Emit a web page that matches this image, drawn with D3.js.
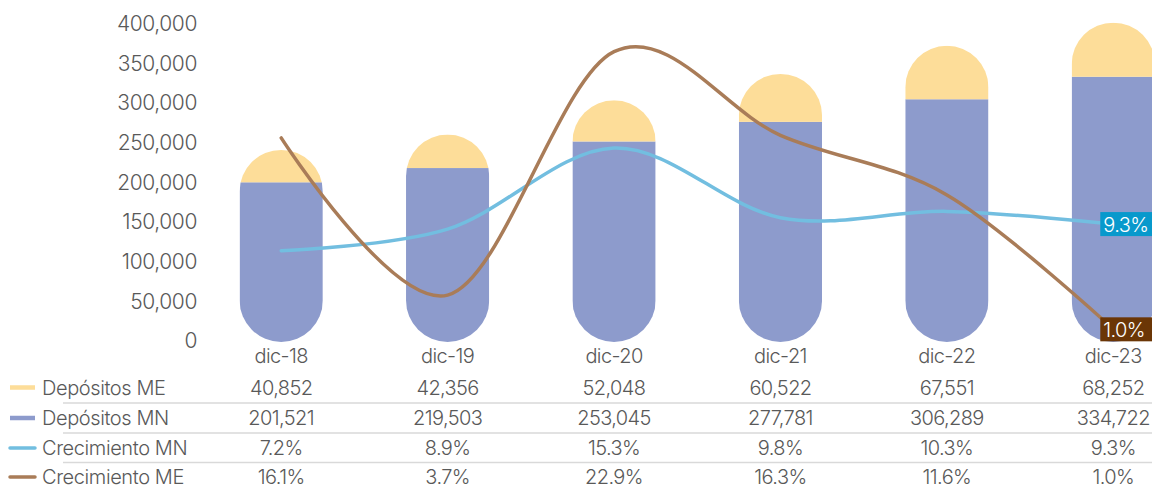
<!DOCTYPE html>
<html>
<head>
<meta charset="utf-8">
<script src="https://cdn.jsdelivr.net/npm/d3@7"></script>
<style>
  html, body { margin: 0; padding: 0; background: #fff; }
  svg { display: block; }
  text { font-family: Inter, "Liberation Sans", Arial, sans-serif; font-weight: 300; fill: #595959; font-variant-numeric: proportional-nums; }
</style>
</head>
<body>
<svg id="chart" width="1152" height="489"></svg>
<script>
// Depósitos del sistema: moneda nacional (MN) y moneda extranjera (ME)
const categories = ["dic-18", "dic-19", "dic-20", "dic-21", "dic-22", "dic-23"];
const depositosME = [40852, 42356, 52048, 60522, 67551, 68252];
const depositosMN = [201521, 219503, 253045, 277781, 306289, 334722];
const crecimientoMN = [7.2, 8.9, 15.3, 9.8, 10.3, 9.3];
const crecimientoME = [16.1, 3.7, 22.9, 16.3, 11.6, 1.0];
const yTicks = [0, 50000, 100000, 150000, 200000, 250000, 300000, 350000, 400000];

const colors = {
  me: "#fddd99",
  mn: "#8d9bcc",
  growMN: "#72bee0",
  growME: "#a97c58",
  boxMN: "#0899cc",
  boxME: "#6b3606",
  grid: "#d9d9d9"
};

const svg = d3.select("#chart");

const x = d3.scaleBand()
  .domain(categories)
  .range([198, 1196.5])
  .paddingInner(0.5)
  .paddingOuter(0.25);

const y = d3.scaleLinear().domain([0, 400000]).range([342, 25]);
const y2 = d3.scaleLinear().domain([0, 25]).range([342, 25]);

const fmt = d3.format(",");
const pct = v => v.toFixed(1) + "%";

// Eje Y principal (solo etiquetas)
const yAxis = d3.axisLeft(y).tickValues(yTicks).tickFormat(fmt).tickSize(0).tickPadding(0);
const gy = svg.append("g").attr("transform", "translate(197,-1)").call(yAxis);
gy.select(".domain").remove();
gy.selectAll("text")
  .attr("font-family", null)
  .attr("font-size", null)
  .attr("fill", null)
  .style("font-size", "21px")
  .style("letter-spacing", "-0.4px");

// Columnas apiladas con extremos redondeados
const bw = x.bandwidth();
const r = bw / 2;
const defs = svg.append("defs");
const stacks = categories.map((c, i) => ({
  cat: c, i, mn: depositosMN[i], me: depositosME[i], total: depositosMN[i] + depositosME[i]
}));

stacks.forEach(d => {
  defs.append("clipPath").attr("id", "pill-" + d.i)
    .append("rect")
    .attr("x", x(d.cat))
    .attr("y", y(d.total))
    .attr("width", bw)
    .attr("height", y(0) - y(d.total))
    .attr("rx", r).attr("ry", r);
});

const bars = svg.append("g").selectAll("g").data(stacks).join("g")
  .attr("clip-path", d => "url(#pill-" + d.i + ")");

bars.append("rect")
  .attr("x", d => x(d.cat))
  .attr("y", d => y(d.mn))
  .attr("width", bw)
  .attr("height", d => y(0) - y(d.mn))
  .attr("fill", colors.mn);

bars.append("rect")
  .attr("x", d => x(d.cat))
  .attr("y", d => y(d.total))
  .attr("width", bw)
  .attr("height", d => y(d.mn) - y(d.total))
  .attr("fill", colors.me);

// Líneas de crecimiento (eje secundario)
const cx = c => x(c) + bw / 2;
const line = d3.line().x(d => cx(d.c)).y(d => y2(d.v)).curve(d3.curveCardinal.tension(0));

const seriesMN = categories.map((c, i) => ({ c, v: crecimientoMN[i] }));
const seriesME = categories.map((c, i) => ({ c, v: crecimientoME[i] }));

svg.append("path").datum(seriesMN).attr("d", line)
  .attr("fill", "none").attr("stroke", colors.growMN).attr("stroke-width", 3.5).attr("stroke-linecap", "round");
svg.append("path").datum(seriesME).attr("d", line)
  .attr("fill", "none").attr("stroke", colors.growME).attr("stroke-width", 3.5).attr("stroke-linecap", "round");

// Etiquetas del último valor
function endLabel(series, fill) {
  const last = series[series.length - 1];
  const g = svg.append("g").attr("transform", `translate(${cx(last.c) - 13},${y2(last.v)})`);
  g.append("rect").attr("x", 0).attr("y", -12).attr("width", 56).attr("height", 24).attr("fill", fill);
  g.append("text").attr("x", 3).attr("y", 7.5)
    .style("font-size", "20px").style("letter-spacing", "-0.6px")
    .style("fill", "#ffffff").text(pct(last.v));
}
endLabel(seriesMN, colors.boxMN);
endLabel(seriesME, colors.boxME);

// Etiquetas de categoría
svg.append("g").selectAll("text").data(categories).join("text")
  .attr("x", d => cx(d)).attr("y", 363)
  .attr("text-anchor", "middle")
  .style("font-size", "20px").style("letter-spacing", "-0.6px")
  .text(d => d);

// Tabla de datos
const rows = [
  { name: "Depósitos ME", color: colors.me, values: depositosME.map(fmt), sw: 4.5 },
  { name: "Depósitos MN", color: colors.mn, values: depositosMN.map(fmt), sw: 4.5 },
  { name: "Crecimiento MN", color: colors.growMN, values: crecimientoMN.map(pct), sw: 3.5 },
  { name: "Crecimiento ME", color: colors.growME, values: crecimientoME.map(pct), sw: 3.5 }
];
const rowY = [387.5, 418, 448, 477];

// Separadores de filas
svg.append("g").selectAll("line").data([403, 433, 462.5]).join("line")
  .attr("x1", 63).attr("x2", 1152).attr("y1", d => d).attr("y2", d => d)
  .attr("stroke", colors.grid).attr("stroke-width", 1.3);

const rg = svg.append("g").selectAll("g").data(rows).join("g")
  .attr("transform", (d, i) => `translate(0,${rowY[i]})`);

rg.append("line").attr("x1", 10).attr("x2", 35).attr("y1", 0).attr("y2", 0)
  .attr("stroke", d => d.color).attr("stroke-width", d => d.sw).attr("stroke-linecap", d => d.sw < 4 ? "round" : "butt");

rg.append("text").attr("x", 42).attr("y", 7)
  .style("font-size", "20px").style("letter-spacing", "-0.4px")
  .text(d => d.name);

rg.selectAll("text.v").data(d => d.values.map((v, i) => ({ v, c: categories[i] }))).join("text")
  .attr("class", "v")
  .attr("x", d => cx(d.c)).attr("y", 7)
  .attr("text-anchor", "middle")
  .style("font-size", "20px").style("letter-spacing", "-0.6px")
  .text(d => d.v);
</script>
</body>
</html>
